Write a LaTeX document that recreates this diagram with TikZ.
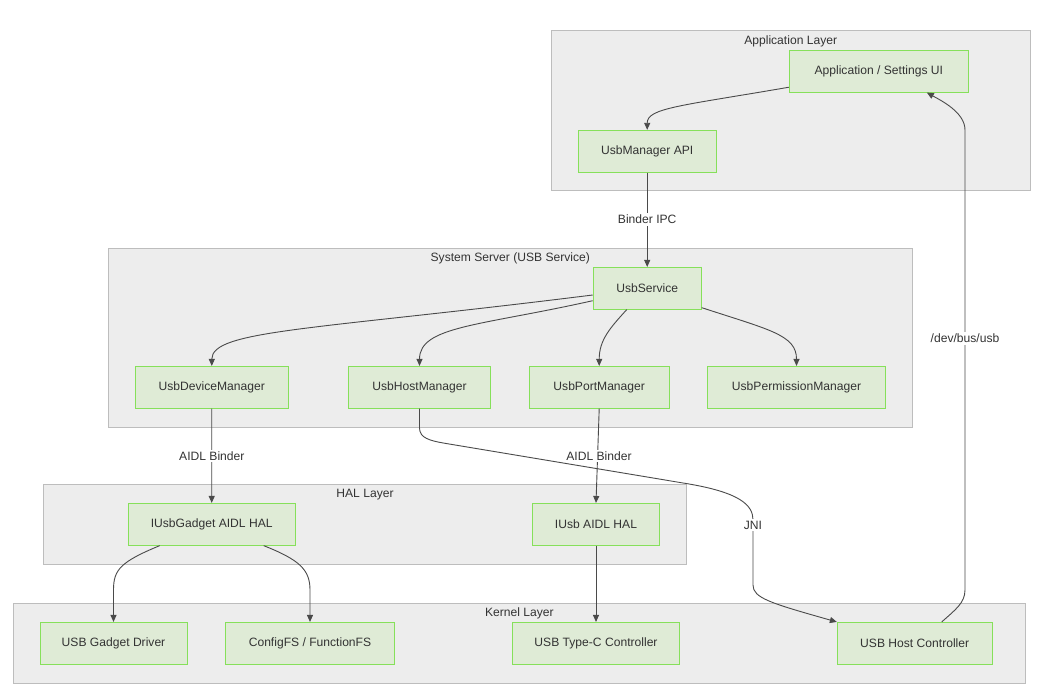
\documentclass[tikz,border=0pt]{standalone}
\usepackage{fontspec}
\setmainfont{Liberation Sans}
\usetikzlibrary{arrows.meta,calc}
\definecolor{nodefill}{HTML}{DFEBD6}
\definecolor{nodeline}{HTML}{86E05A}
\definecolor{clusterfill}{HTML}{EDEDED}
\definecolor{clusterline}{HTML}{BDBDBD}
\definecolor{txt}{HTML}{333333}
\definecolor{edge}{HTML}{4A4A4A}
\begin{document}
\begin{tikzpicture}[x=1pt,y=-1pt,
  font=\fontsize{12.1}{14}\selectfont, text=txt,
  cluster/.style={draw=clusterline, fill=clusterfill, line width=1pt},
  ctitle/.style={inner sep=0pt, text=txt},
  box/.style={draw=nodeline, fill=nodefill, line width=1pt, minimum height=41.7pt, inner sep=0pt},
  arr/.style={draw=edge, line width=0.9pt, -{Triangle[length=7pt,width=6pt]}},
  lbl/.style={fill=white, inner sep=2pt, text=txt}]
\useasboundingbox[fill=white] (0,0) rectangle (1049,700);

% clusters
\draw[cluster] (551,31) rectangle (1030.5,190.5);
\node[ctitle] (tApp) at (790.7,41.5) {Application Layer};
\draw[cluster] (108.3,248.3) rectangle (912.3,427);
\node[ctitle] (tSys) at (510.3,258.5) {System Server (USB Service)};
\draw[cluster] (43.3,484.7) rectangle (686.7,564.3);
\node[ctitle] (tHal) at (365,494.5) {HAL Layer};
\draw[cluster] (13.3,603.3) rectangle (1025.5,683.3);
\node[ctitle] (tKer) at (519.4,613.2) {Kernel Layer};

% nodes
\node[box, minimum width=179pt] (app) at (878.8,71.2) {Application / Settings UI};
\node[box, minimum width=138pt] (um) at (647.2,151.2) {UsbManager API};
\node[box, minimum width=108pt] (us) at (647.2,288.3) {UsbService};
\node[box, minimum width=153pt] (udm) at (211.8,387.3) {UsbDeviceManager};
\node[box, minimum width=142.4pt] (uhm) at (419.5,387.3) {UsbHostManager};
\node[box, minimum width=139.7pt] (upm) at (599.2,387.3) {UsbPortManager};
\node[box, minimum width=178.4pt] (uperm) at (796.5,387.3) {UsbPermissionManager};
\node[box, minimum width=166.7pt] (iug) at (211.7,524.3) {IUsbGadget AIDL HAL};
\node[box, minimum width=126.6pt] (iusb) at (596,524.3) {IUsb AIDL HAL};
\node[box, minimum width=147pt] (gd) at (113.5,643.3) {USB Gadget Driver};
\node[box, minimum width=169.4pt] (cf) at (310,643.3) {ConfigFS / FunctionFS};
\node[box, minimum width=167pt] (tc) at (596,643.3) {USB Type-C Controller};
\node[box, minimum width=154.7pt] (hc) at (914.7,643.3) {USB Host Controller};

% edges
\draw[arr] ($(app.south west)+(0,-5.3)$) .. controls (680,106) and (647.2,108) .. (um.north);
\draw[arr] (um) -- (us);
\draw[arr] ($(us.west)+(0,6.7)$) .. controls (313,330) and (211.8,330) .. (udm.north);
\draw[arr] ($(us.west)+(0,12.4)$) .. controls (480,326) and (419.5,326) .. (uhm.north);
\draw[arr] ($(us.south)+(-20.5,0)$) .. controls (610,328) and (599.2,340) .. (upm.north);
\draw[arr] ($(us.south east)+(0,-2)$) .. controls (770,330) and (796.5,335) .. (uperm.north);
\draw[arr] (udm) -- (iug);
\draw[arr] (upm.south) -- (iusb.north);
\draw[arr] ($(iug.south)+(-52,0)$) .. controls (120,562) and (113.5,570) .. (113.5,590) -- (gd.north);
\draw[arr] ($(iug.south)+(52,0)$) .. controls (300,560) and (310,570) .. (310,590) -- (cf.north);
\draw[arr] (iusb) -- (tc);
\draw[arr] (uhm.south) -- (419.5,428) .. controls (419.5,438) and (430,440.8) .. (445,443.3)
  -- (683,483) .. controls (740,492) and (753,505) .. (753,520)
  -- (753,585) .. controls (753,598) and (770,603) .. (hc.north west);
\draw[arr] ($(hc.north)+(27,0)$) .. controls (955,610) and (965,603) .. (965,590)
  -- (965,130) .. controls (965,112) and (940,100) .. ($(app.south)+(48,0)$);

% edge labels
\node[lbl] (lIpc) at (647.2,219.5) {Binder IPC};
\node[lbl] (lB1) at (211.8,456) {AIDL Binder};
\node[lbl] (lB2) at (599,456) {AIDL Binder};
\node[lbl] (lJni) at (753,525) {JNI};
\node[lbl] (lDev) at (965,338.5) {/dev/bus/usb};
\end{tikzpicture}
\end{document}
